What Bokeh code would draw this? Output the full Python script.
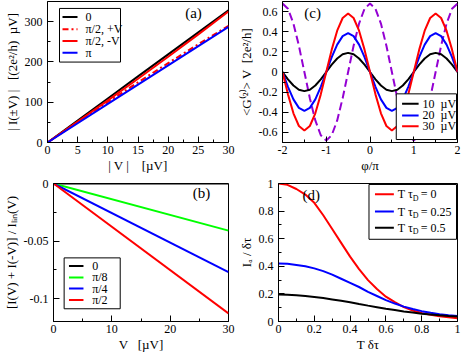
from bokeh.plotting import figure
from bokeh.layouts import column, row
from bokeh.models import Range1d, FixedTicker, Label
from bokeh.core.properties import value
from bokeh.embed import file_html
from bokeh.resources import INLINE

FONT = "Liberation Serif"
NB = "\u00a0"

# ---------------- panel (a) ----------------
a_v = [0, 5, 10, 15, 20, 25, 30]
a_phi0 = [0, 54.7, 109.3, 164.0, 218.7, 273.3, 328.0]
a_half_plusV = [0, 50.8, 100.5, 149.3, 197.1, 244.0, 289.8]
a_half_minusV = [0, 51.7, 104.5, 158.2, 212.9, 268.5, 325.2]
a_pi = [0, 47.8, 95.7, 143.5, 191.3, 239.2, 287.0]
a_names = ["0", "π/2, +V", "π/2, -V", "π"]
a_xticks = [0, 5, 10, 15, 20, 25, 30]
a_xlabels = ["0", "5", "10", "15", "20", "25", "30"]
a_xminor = [2.5, 7.5, 12.5, 17.5, 22.5, 27.5]
a_yticks = [0, 100, 200, 300]
a_ylabels = ["0", "100", "200", "300"]
a_yminor = [50, 150, 250]

# ---------------- panel (b) ----------------
b_v = [0, 30]
b_phi0 = [0, 0]
b_pi8 = [0, -0.041]
b_pi4 = [0, -0.077]
b_pi2 = [0, -0.113]
b_names = ["0", "π/8", "π/4", "π/2"]
b_xticks = [0, 10, 20, 30]
b_xlabels = ["0", "10", "20", "30"]
b_xminor = [5, 15, 25]
b_yticks = [0, -0.05, -0.1]
b_ylabels = ["0", "-0.05", "-0.1"]
b_yminor = [-0.025, -0.075]

# ---------------- panel (c) ----------------
c_phi = [-2, -1.875, -1.75, -1.625, -1.5, -1.375, -1.25, -1.125, -1,
         -0.875, -0.75, -0.625, -0.5, -0.375, -0.25, -0.125, 0,
         0.125, 0.25, 0.375, 0.5, 0.625, 0.75, 0.875, 1,
         1.125, 1.25, 1.375, 1.5, 1.625, 1.75, 1.875, 2]
c_10uV = [0, -0.073, -0.134, -0.176, -0.19, -0.176, -0.134, -0.073, 0,
          0.073, 0.134, 0.176, 0.19, 0.176, 0.134, 0.073, 0,
          -0.073, -0.134, -0.176, -0.19, -0.176, -0.134, -0.073, 0,
          0.073, 0.134, 0.176, 0.19, 0.176, 0.134, 0.073, 0]
c_20uV = [0, -0.147, -0.272, -0.356, -0.385, -0.356, -0.272, -0.147, 0,
          0.147, 0.272, 0.356, 0.385, 0.356, 0.272, 0.147, 0,
          -0.147, -0.272, -0.356, -0.385, -0.356, -0.272, -0.147, 0,
          0.147, 0.272, 0.356, 0.385, 0.356, 0.272, 0.147, 0]
c_30uV = [0, -0.222, -0.41, -0.536, -0.58, -0.536, -0.41, -0.222, 0,
          0.222, 0.41, 0.536, 0.58, 0.536, 0.41, 0.222, 0,
          -0.222, -0.41, -0.536, -0.58, -0.536, -0.41, -0.222, 0,
          0.222, 0.41, 0.536, 0.58, 0.536, 0.41, 0.222, 0]
c_dashed = [0.68, 0.628, 0.481, 0.26, 0, -0.26, -0.481, -0.628, -0.68,
            -0.628, -0.481, -0.26, 0, 0.26, 0.481, 0.628, 0.68,
            0.628, 0.481, 0.26, 0, -0.26, -0.481, -0.628, -0.68,
            -0.628, -0.481, -0.26, 0, 0.26, 0.481, 0.628, 0.68]
c_names = ["10" + NB + " µV", "20" + NB + " µV", "30" + NB + " µV"]
c_xticks = [-2, -1, 0, 1, 2]
c_xlabels = ["-2", "-1", "0", "1", "2"]
c_xminor = [-1.5, -0.5, 0.5, 1.5]
c_yticks = [-0.6, -0.4, -0.2, 0, 0.2, 0.4, 0.6]
c_ylabels = ["-0.6", "-0.4", "-0.2", "0", "0.2", "0.4", "0.6"]
c_yminor = [-0.5, -0.3, -0.1, 0.1, 0.3, 0.5]

# ---------------- panel (d) ----------------
d_t = [0, 0.05, 0.1, 0.15, 0.2, 0.25, 0.3, 0.35, 0.4, 0.45, 0.5,
       0.55, 0.6, 0.65, 0.7, 0.75, 0.8, 0.85, 0.9, 0.95, 1.0]
d_tau0 = [1.0, 0.99, 0.96, 0.92, 0.86, 0.77, 0.67, 0.57, 0.47, 0.38, 0.30,
          0.235, 0.18, 0.14, 0.105, 0.08, 0.062, 0.048, 0.038, 0.03, 0.024]
d_tau025 = [0.42, 0.418, 0.41, 0.40, 0.385, 0.365, 0.34, 0.31, 0.28, 0.25, 0.215,
            0.185, 0.155, 0.13, 0.108, 0.09, 0.075, 0.063, 0.053, 0.046, 0.04]
d_tau05 = [0.195, 0.194, 0.19, 0.185, 0.178, 0.17, 0.16, 0.15, 0.14, 0.127, 0.115,
           0.104, 0.093, 0.083, 0.073, 0.065, 0.057, 0.051, 0.045, 0.04, 0.036]
d_tauD = ["0", "0.25", "0.5"]
d_xticks = [0, 0.2, 0.4, 0.6, 0.8, 1]
d_xlabels = ["0", "0.2", "0.4", "0.6", "0.8", "1"]
d_xminor = [0.1, 0.3, 0.5, 0.7, 0.9]
d_yticks = [0, 0.2, 0.4, 0.6, 0.8, 1]
d_ylabels = ["0", "0.2", "0.4", "0.6", "0.8", "1"]
d_yminor = [0.1, 0.3, 0.5, 0.7, 0.9]


class Frame:
    """Pixel geometry of a plot frame, used to place legend pieces."""
    def __init__(self, left, top, w, h, x0, x1, y0, y1):
        self.left, self.top, self.w, self.h = left, top, w, h
        self.x0, self.x1, self.y0, self.y1 = x0, x1, y0, y1

    def X(self, px):
        return self.x0 + (px - self.left) / self.w * (self.x1 - self.x0)

    def Y(self, py):
        return self.y1 - (py - self.top) / self.h * (self.y1 - self.y0)


def make(xr, yr, w, h, bl, bt, br, bb):
    p = figure(width=w, height=h, x_range=Range1d(*xr), y_range=Range1d(*yr),
               output_backend="svg", toolbar_location=None,
               min_border_left=bl, min_border_top=bt,
               min_border_right=br, min_border_bottom=bb)
    p.xgrid.visible = False
    p.ygrid.visible = False
    p.outline_line_color = "black"
    p.outline_line_width = 1
    p.outline_line_alpha = 1
    p.background_fill_color = "white"
    p.border_fill_color = "white"
    return p


def style(p, xt, xl, xm, yt, yl, ym, xlabel, ylabel):
    p.xaxis.ticker = FixedTicker(ticks=xt, minor_ticks=xm)
    p.yaxis.ticker = FixedTicker(ticks=yt, minor_ticks=ym)
    p.xaxis.major_label_overrides = dict(zip(xt, xl))
    p.yaxis.major_label_overrides = dict(zip(yt, yl))
    p.xaxis.axis_label = xlabel
    p.yaxis.axis_label = ylabel
    for ax in list(p.xaxis) + list(p.yaxis):
        ax.major_tick_in = 6
        ax.major_tick_out = 0
        ax.minor_tick_in = 3
        ax.minor_tick_out = 0
        ax.axis_line_color = "black"
        ax.major_tick_line_color = "black"
        ax.minor_tick_line_color = "black"
        ax.major_label_text_font = FONT
        ax.major_label_text_font_size = "12px"
        ax.major_label_text_color = "black"
        ax.axis_label_text_font = FONT
        ax.axis_label_text_font_size = "13px"
        ax.axis_label_text_font_style = "normal"
        ax.axis_label_text_color = "black"
    p.xaxis.major_label_standoff = 3
    p.xaxis.axis_label_standoff = 1
    p.yaxis.major_label_standoff = 5
    p.yaxis.axis_label_standoff = 2


def key(p, F, box, rows, line_px, label_px, styles, labels):
    """Legend drawn with glyphs: box (x0,y0,x1,y1 px), row centres (px)."""
    p.quad(left=[F.X(box[0])], right=[F.X(box[2])], top=[F.Y(box[1])], bottom=[F.Y(box[3])],
           fill_color="white", line_color="black", line_width=1)
    for ry, st, lab in zip(rows, styles, labels):
        p.line([F.X(line_px[0]), F.X(line_px[1])], [F.Y(ry), F.Y(ry)], **st)
        p.text([F.X(label_px)], [F.Y(ry)], text=[lab], text_font=value(FONT),
               text_font_size="12px", text_baseline="middle", text_align="left",
               text_color="black")


def tag(p, F, px, py, text):
    p.add_layout(Label(x=F.X(px), y=F.Y(py), text=text, text_font=FONT, text_font_size="15px",
                       text_align="center", text_baseline="middle", text_color="black"))


LW = 2
A = Frame(47, 1, 181, 142, 0, 30, 0, 350)
B = Frame(47, 183, 181, 141, 0, 30, -0.12, 0)
C = Frame(277, 1, 180, 142, -2, 2, -0.7, 0.7)
D = Frame(277, 183, 180, 141, 0, 1, 0, 1)

# (a)
pa = make((0, 30), (0, 350), 235, 175, 47, 1, 7, 32)
style(pa, a_xticks, a_xlabels, a_xminor, a_yticks, a_ylabels, a_yminor,
      "| V |" + NB + NB + NB + " [µV]",
      "| I(±V) |" + NB + NB + " [(2e²/h)" + NB + " µV]")
sa = [dict(color="black", line_width=LW),
      dict(color="red", line_width=LW, line_dash="6 3 2 3"),
      dict(color="red", line_width=LW),
      dict(color="blue", line_width=LW)]
for ys, st in zip([a_phi0, a_half_plusV, a_half_minusV, a_pi], sa):
    pa.line(a_v, ys, **st)
key(pa, A, (59, 8, 120, 62), [16.7, 29, 40.7, 52.7], (62, 77), 85, sa, a_names)
tag(pa, A, 193, 13, "(a)")

# (b)
pb = make((0, 30), (-0.12, 0), 235, 179, 47, 8, 7, 30)
style(pb, b_xticks, b_xlabels, b_xminor, b_yticks, b_ylabels, b_yminor,
      "V" + NB + NB + " [µV]",
      "[I(V) + I(-V)] / Iₗᵢₙ(V)")
sb = [dict(color="black", line_width=LW),
      dict(color="#00ff00", line_width=LW),
      dict(color="blue", line_width=LW),
      dict(color="red", line_width=LW)]
for ys, st in zip([b_phi0, b_pi8, b_pi4, b_pi2], sb):
    pb.line(b_v, ys, **st)
key(pb, B, (58, 259, 116, 311), [267.3, 279, 290.3, 302], (63, 78), 87, sb, b_names)
tag(pb, B, 200, 193, "(b)")

# (c)
pc = make((-2, 2), (-0.7, 0.7), 228, 175, 42, 1, 6, 32)
style(pc, c_xticks, c_xlabels, c_xminor, c_yticks, c_ylabels, c_yminor,
      "φ/π", "<G⁽²⁾> V" + NB + " [2e²/h]")
pc.line(c_phi, c_dashed, color="#9400d3", line_width=LW, line_dash="8 4")
sc = [dict(color="black", line_width=LW),
      dict(color="blue", line_width=LW),
      dict(color="red", line_width=LW)]
for ys, st in zip([c_10uV, c_20uV, c_30uV], sc):
    pc.line(c_phi, ys, **st)
key(pc, C, (394, 94, 456, 140), [104, 115.7, 126.7], (400, 417), 421, sc, c_names)
tag(pc, C, 308, 13, "(c)")

# (d)
pd_ = make((0, 1), (0, 1), 228, 179, 42, 8, 6, 30)
style(pd_, d_xticks, d_xlabels, d_xminor, d_yticks, d_ylabels, d_yminor,
      "T δτ", "Iₐ / δτ")
sd = [dict(color="red", line_width=LW),
      dict(color="blue", line_width=LW),
      dict(color="black", line_width=LW)]
for ys, st in zip([d_tau0, d_tau025, d_tau05], sd):
    pd_.line(d_t, ys, **st)
d_rows = [194, 211.7, 228.3]
key(pd_, D, (368, 184, 456, 240), d_rows, (374, 393), 397, sd, ["T τ"] * 3)
for ry, v in zip(d_rows, d_tauD):
    pd_.text([D.X(412)], [D.Y(ry + 4)], text=["D"], text_font=value(FONT),
             text_font_size="8px", text_baseline="middle", text_align="left", text_color="black")
    pd_.text([D.X(420)], [D.Y(ry)], text=["= " + v], text_font=value(FONT),
             text_font_size="12px", text_baseline="middle", text_align="left", text_color="black")
tag(pd_, D, 310, 195, "(d)")

layout = column(row(pa, pc), row(pb, pd_))

open("out.html", "w").write(file_html(layout, INLINE))
